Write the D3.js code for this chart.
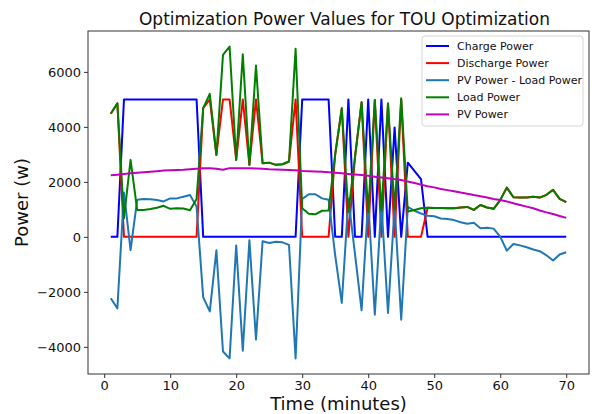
<!DOCTYPE html>
<html>
<head>
<meta charset="utf-8">
<script src="https://cdn.jsdelivr.net/npm/d3@7"></script>
<style>
  body { margin: 0; background: #fff; }
  svg { font-family: "DejaVu Sans", sans-serif; }
</style>
</head>
<body>
<script>
// time in minutes, 1..70
var minutes = d3.range(1, 71);

var chargePower = [
  0, 0, 5000, 5000, 5000, 5000, 5000, 5000, 5000, 5000,
  5000, 5000, 5000, 5000, 0, 0, 0, 0, 0, 0,
  0, 0, 0, 0, 0, 0, 0, 0, 0, 5000,
  5000, 5000, 5000, 5000, 0, 0, 5000, 0, 0, 5000,
  0, 5000, 0, 3980, 0, 2700, 2400, 2100, 0, 0,
  0, 0, 0, 0, 0, 0, 0, 0, 0, 0,
  0, 0, 0, 0, 0, 0, 0, 0, 0, 0
];

var dischargePower = [
  4480, 4860, 0, 0, 0, 0, 0, 0, 0, 0,
  0, 0, 0, 0, 4680, 5000, 2980, 5000, 5000, 2800,
  5000, 2620, 5000, 2680, 2700, 2620, 2640, 2740, 5000, 0,
  0, 0, 0, 0, 3000, 4680, 0, 2900, 4900, 0,
  4980, 0, 4850, 0, 5000, 0, 0, 0, 1060, 1050,
  1050, 1040, 1040, 1070, 1090, 980, 1160, 1070, 1020, 1340,
  1790, 1440, 1430, 1430, 1455, 1430, 1530, 1710, 1380, 1260
];

var pvMinusLoad = [
  -2230, -2600, 1610, -480, 1350, 1380, 1370, 1340, 1290, 1400,
  1400, 1460, 1520, 1100, -2190, -2710, -490, -4170, -4420, -310,
  -4140, -120, -3730, -160, -220, -180, -200, -290, -4420, 1380,
  1550, 1550, 1400, 1350, -670, -2400, 1390, -630, -2670, 1320,
  -2830, 1210, -2770, 1100, -3010, 1090, 950, 850, 770, 750,
  670, 650, 610, 530, 480, 510, 310, 330, 300, 10,
  -500, -260, -310, -380, -460, -520, -670, -860, -640, -560
];

var loadPower = [
  4480, 4860, 680, 2800, 980, 980, 1010, 1060, 1130, 1020,
  1040, 1030, 970, 1380, 4680, 5200, 2980, 6620, 6920, 2800,
  6640, 2620, 6230, 2680, 2700, 2620, 2640, 2740, 6840, 1040,
  840, 820, 950, 960, 3000, 4680, 900, 2900, 4900, 900,
  4980, 950, 4850, 1000, 5040, 920, 980, 1040, 1060, 1050,
  1050, 1040, 1040, 1070, 1090, 980, 1160, 1070, 1020, 1340,
  1790, 1440, 1430, 1430, 1455, 1430, 1530, 1710, 1380, 1260
];

var pvPower = [
  2240, 2260, 2290, 2310, 2330, 2350, 2370, 2390, 2410, 2420,
  2430, 2440, 2460, 2480, 2500, 2500, 2480, 2440, 2500, 2500,
  2500, 2500, 2490, 2480, 2460, 2450, 2440, 2430, 2420, 2400,
  2390, 2380, 2370, 2350, 2330, 2310, 2290, 2270, 2250, 2220,
  2190, 2160, 2130, 2100, 2070, 2010, 1960, 1900, 1840, 1800,
  1740, 1700, 1660, 1610, 1570, 1520, 1480, 1430, 1380, 1340,
  1290, 1220, 1160, 1100, 1040, 960, 890, 830, 760, 690
];

var xTicks = [0, 10, 20, 30, 40, 50, 60, 70];
var yTicks = [-4000, -2000, 0, 2000, 4000, 6000];

var series = [
  {name: "Charge Power", values: chargePower, color: "#0000ff"},
  {name: "Discharge Power", values: dischargePower, color: "#ff0000"},
  {name: "PV Power - Load Power", values: pvMinusLoad, color: "#1f77b4"},
  {name: "Load Power", values: loadPower, color: "#008000"},
  {name: "PV Power", values: pvPower, color: "#bf00bf"}
];

var width = 592, height = 414;
var margin = {left: 88, right: 3, top: 31, bottom: 40};

var svg = d3.select("body").append("svg")
    .attr("width", width)
    .attr("height", height);

// matplotlib-like 5% margins
var xExt = d3.extent(minutes);
var xPad = (xExt[1] - xExt[0]) * 0.05;
var allVals = [].concat.apply([], series.map(s => s.values));
var yExt = d3.extent(allVals);
var yPad = (yExt[1] - yExt[0]) * 0.05;

var x = d3.scaleLinear()
    .domain([xExt[0] - xPad, xExt[1] + xPad])
    .range([margin.left, width - margin.right]);

var y = d3.scaleLinear()
    .domain([yExt[0] - yPad, yExt[1] + yPad])
    .range([height - margin.bottom, margin.top]);

var line = d3.line()
    .x((d, i) => x(minutes[i]))
    .y(d => y(d));

svg.append("g")
    .selectAll("path")
    .data(series)
    .enter().append("path")
    .attr("fill", "none")
    .attr("stroke", d => d.color)
    .attr("stroke-width", 2)
    .attr("stroke-linejoin", "round")
    .attr("d", d => line(d.values));

// frame
svg.append("rect")
    .attr("x", margin.left)
    .attr("y", margin.top)
    .attr("width", width - margin.right - margin.left)
    .attr("height", height - margin.bottom - margin.top)
    .attr("fill", "none")
    .attr("stroke", "#333")
    .attr("stroke-width", 1);

var xAxis = svg.append("g")
    .attr("transform", "translate(0," + (height - margin.bottom) + ")")
    .call(d3.axisBottom(x).tickValues(xTicks).tickSize(4).tickPadding(3).tickFormat(d3.format("d")));

var yAxis = svg.append("g")
    .attr("transform", "translate(" + margin.left + ",0)")
    .call(d3.axisLeft(y).tickValues(yTicks).tickSize(4).tickPadding(3).tickFormat(d3.format("d")));

[xAxis, yAxis].forEach(function(g) {
  g.select(".domain").remove();
  g.selectAll(".tick line").attr("stroke", "#333");
  g.selectAll(".tick text")
    .attr("fill", "#111")
    .style("font-family", "DejaVu Sans")
    .style("font-size", "13px");
});

svg.append("text")
    .attr("x", (margin.left + width - margin.right) / 2 + 6)
    .attr("y", 25)
    .attr("text-anchor", "middle")
    .style("font-size", "17px")
    .attr("fill", "#111")
    .text("Optimization Power Values for TOU Optimization");

svg.append("text")
    .attr("x", (margin.left + width - margin.right) / 2)
    .attr("y", 410)
    .attr("text-anchor", "middle")
    .style("font-size", "18px")
    .attr("fill", "#111")
    .text("Time (minutes)");

svg.append("text")
    .attr("transform", "translate(28," + ((margin.top + height - margin.bottom) / 2) + ") rotate(-90)")
    .attr("text-anchor", "middle")
    .style("font-size", "18px")
    .attr("fill", "#111")
    .text("Power (w)");

// legend
var legend = svg.append("g").attr("transform", "translate(422,36)");
legend.append("rect")
    .attr("width", 161)
    .attr("height", 90)
    .attr("rx", 3)
    .attr("fill", "#fff")
    .attr("fill-opacity", 0.85)
    .attr("stroke", "#d6d6d6");

var item = legend.selectAll("g.item")
    .data(series)
    .enter().append("g")
    .attr("class", "item")
    .attr("transform", (d, i) => "translate(0," + (10 + i * 17.1) + ")");

item.append("line")
    .attr("x1", 4).attr("x2", 27)
    .attr("stroke", d => d.color)
    .attr("stroke-width", 2);

item.append("text")
    .attr("x", 35)
    .attr("y", 4)
    .style("font-size", "11px")
    .attr("fill", "#111")
    .text(d => d.name);
</script>
</body>
</html>
